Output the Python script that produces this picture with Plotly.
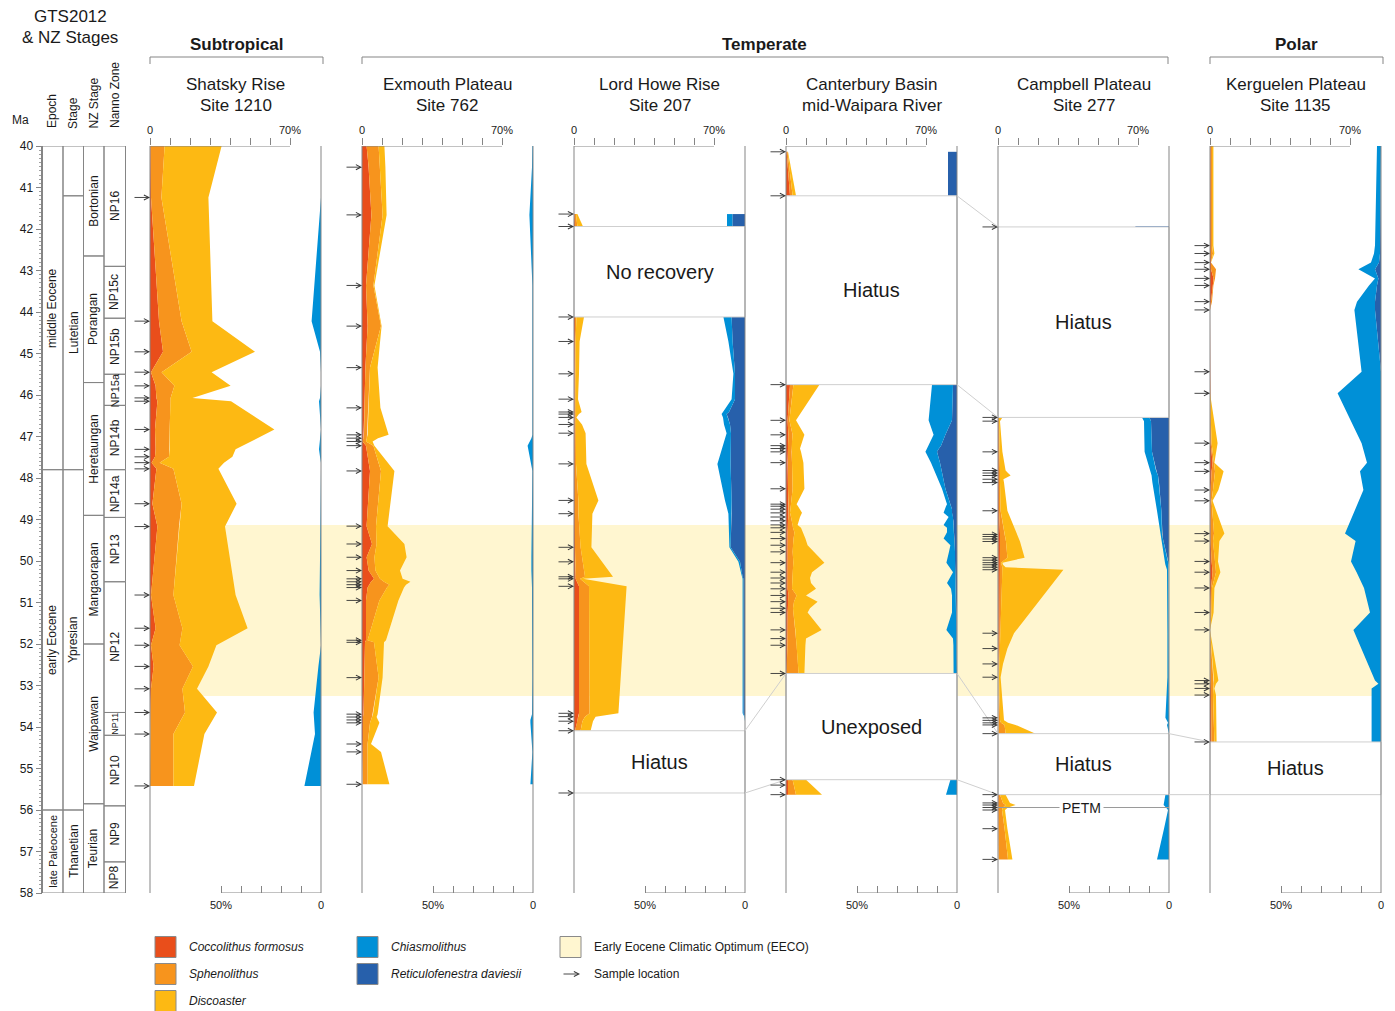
import plotly.graph_objects as go

W, H = 1395, 1011
FONT = "Liberation Sans, Arial, Helvetica, sans-serif"

C_COCCO = "#E94E1B"
C_SPHENO = "#F7941D"
C_DISCO = "#FDB913"
C_CHIAS = "#0090D7"
C_RDAV = "#2760AB"
C_EECO = "#FFF6D0"
GRID = "#858585"
BOX = "#cfcfcf"
TXT = "#1a1a1a"

# ---------------- events ----------------
eeco = [49.13, 53.25]
petm_age = 55.94

# ---------------- timescale (GTS2012 & NZ stages) ----------------
epoch_names = ["middle Eocene", "early Eocene", "late Paleocene"]
epoch_bounds = [40.0, 47.8, 56.0, 58.0]
stage_names = ["", "Lutetian", "Ypresian", "Thanetian"]
stage_bounds = [40.0, 41.2, 47.8, 56.0, 58.0]
nzstage_names = ["Bortonian", "Porangan", "Heretaungan", "Mangaorapan", "Waipawan", "Teurian"]
nzstage_bounds = [40.0, 42.65, 45.7, 48.9, 52.0, 55.85, 58.0]
nanno_names = ["NP16", "NP15c", "NP15b", "NP15a", "NP14b", "NP14a", "NP13", "NP12", "NP11", "NP10", "NP9", "NP8"]
nanno_bounds = [40.0, 42.9, 44.15, 45.5, 46.25, 47.8, 48.95, 50.5, 53.65, 54.2, 55.9, 57.25, 58.0]

# ---------------- Shatsky Rise, Site 1210 (% of assemblage) ----------------
shatsky_age = [40.0, 41.24, 44.22, 44.96, 45.45, 45.78, 46.07, 46.15, 46.83, 47.31, 47.49, 47.63,
               47.78, 48.62, 49.17, 50.82, 51.62, 52.03, 52.54, 53.08, 53.65, 54.17, 55.42]
shatsky_cocco = [0.3, 0.5, 4.5, 6.5, 0.5, 2.8, 3.2, 3.7, 2.5, 2.8, 2.5, 0.8,
                 3.2, 1.2, 3.7, 0.5, 2.8, 0.5, 1.8, 0.5, 0.2, 0.0, 0.0]
shatsky_spheno = [7.0, 5.2, 11.3, 14.3, 5.3, 9.4, 7.1, 6.6, 7.3, 7.0, 7.0, 4.0,
                  8.5, 14.6, 10.8, 11.2, 13.4, 14.3, 19.7, 15.7, 17.3, 11.7, 11.7]
shatsky_disco = [28.5, 23.5, 15.4, 31.7, 25.0, 28.1, 10.9, 30.2, 52.4, 33.0, 31.7, 32.2,
                 22.5, 27.5, 23.0, 31.1, 32.6, 18.4, 7.7, 7.3, 16.0, 15.5, 10.3]
shatsky_chias = [0.0, 0.0, 4.7, 0.5, 0.0, 0.0, 0.5, 1.0, 0.0, 1.0, 0.5, 0.0,
                 0.0, 0.0, 0.3, 0.7, 0.3, 0.0, 1.3, 2.5, 3.7, 3.0, 8.3]
shatsky_rdav = [0.0, 0.0, 0.0, 0.0, 0.0, 0.0, 0.0, 0.0, 0.0, 0.0, 0.0, 0.0,
                0.0, 0.0, 0.0, 0.0, 0.0, 0.0, 0.0, 0.0, 0.0, 0.0, 0.0]
shatsky_samples = [41.24, 44.22, 44.96, 45.45, 45.78, 46.07, 46.15, 46.83, 47.31, 47.49, 47.63,
                   47.78, 48.62, 49.17, 50.82, 51.62, 52.03, 52.54, 53.08, 53.65, 54.17, 55.42]
shatsky_gaps = []

# ---------------- Exmouth Plateau, Site 762 ----------------
exmouth_age = [40.0, 40.51, 41.66, 43.36, 44.34, 45.34, 46.31, 46.96, 47.04, 47.12, 47.22,
               47.83, 49.16, 49.59, 49.91, 50.23, 50.43, 50.50, 50.57, 50.64, 50.95,
               51.91, 51.96, 52.81, 53.69, 53.76, 53.83, 53.90, 54.41, 54.60, 55.38]
exmouth_cocco = [2.3, 3.3, 4.7, 2.0, 2.8, 1.7, 1.2, 1.0, 0.7, 0.3, 2.0,
                 4.0, 2.3, 5.0, 2.3, 3.3, 6.0, 4.5, 3.5, 2.8, 2.0,
                 2.0, 1.5, 1.2, 0.8, 0.5, 0.5, 0.5, 0.3, 0.3, 0.3]
exmouth_spheno = [6.0, 5.7, 5.6, 3.7, 6.7, 2.3, 2.1, 1.8, 1.7, 1.7, 3.7,
                  5.5, 4.7, 2.3, 3.9, 3.4, 3.0, 6.5, 10.2, 9.7, 6.7,
                  0.8, 4.5, 7.1, 4.7, 4.5, 4.0, 3.5, 2.5, 2.5, 2.5]
exmouth_disco = [2.9, 2.7, 2.0, 0.5, 0.3, 3.8, 5.9, 10.5, 5.6, 3.3, 0.5,
                 6.7, 5.8, 13.9, 16.1, 12.3, 11.3, 13.2, 8.3, 8.5, 9.5,
                 9.2, 5.0, 2.0, 2.3, 2.3, 3.5, 4.7, 1.7, 6.7, 10.9]
exmouth_chias = [0.3, 0.5, 1.8, 0.3, 0.3, 0.3, 0.3, 0.3, 0.8, 1.5, 2.7,
                 0.3, 0.8, 0.8, 0.8, 0.8, 0.5, 0.5, 0.5, 0.5, 0.5,
                 0.3, 0.5, 0.3, 0.5, 1.0, 1.3, 1.3, 0.3, 0.3, 1.3]
exmouth_rdav = [0.0, 0.0, 0.0, 0.0, 0.0, 0.0, 0.0, 0.0, 0.0, 0.0, 0.0,
                0.0, 0.0, 0.0, 0.0, 0.0, 0.0, 0.0, 0.0, 0.0, 0.0,
                0.0, 0.0, 0.0, 0.0, 0.0, 0.0, 0.0, 0.0, 0.0, 0.0]
exmouth_samples = [40.51, 41.66, 43.36, 44.34, 45.34, 46.31, 46.96, 47.04, 47.12, 47.22,
                   47.83, 49.16, 49.59, 49.91, 50.23, 50.43, 50.50, 50.57, 50.64, 50.95,
                   51.91, 51.96, 52.81, 53.69, 53.76, 53.83, 53.90, 54.41, 54.60, 55.38]
exmouth_gaps = []

# ---------------- Lord Howe Rise, Site 207 ----------------
lordhowe_age = [41.64, 41.94, 44.12, 44.71, 45.49, 46.10, 46.41, 46.46, 46.54, 46.71,
                46.92, 47.66, 48.54, 48.86, 49.67, 50.02, 50.38, 50.43, 50.61, 53.67,
                53.75, 53.86, 54.09]
lordhowe_cocco = [0.3, 0.5, 0.5, 0.3, 0.3, 0.3, 0.3, 0.3, 0.3, 0.3,
                  0.3, 0.3, 0.3, 0.3, 0.5, 0.5, 0.8, 0.8, 2.5, 2.5,
                  2.0, 1.7, 0.5]
lordhowe_spheno = [0.7, 1.2, 0.7, 0.5, 0.5, 0.5, 0.5, 0.5, 0.4, 0.5,
                   0.5, 0.7, 1.9, 1.9, 2.8, 3.7, 4.7, 2.2, 5.0, 5.3,
                   3.5, 2.5, 2.8]
lordhowe_disco = [0.7, 2.8, 3.8, 2.0, 1.7, 1.2, 3.0, 1.7, 0.5, 3.2,
                  5.0, 5.2, 10.0, 7.0, 5.4, 10.0, 14.0, 1.5, 18.8, 14.4,
                  5.3, 5.3, 5.0]
lordhowe_chias = [2.7, 2.7, 4.1, 2.1, 0.8, 1.7, 3.0, 2.5, 2.5, 3.0,
                  2.2, 6.6, 3.3, 1.6, 0.6, 0.8, 0.3, 0.4, 0.4, 0.4,
                  0.3, 0.0, 0.0]
lordhowe_rdav = [6.3, 6.3, 6.7, 6.2, 5.0, 5.0, 8.0, 9.2, 8.5, 7.5,
                 7.0, 7.2, 6.7, 6.7, 7.2, 2.5, 1.2, 0.8, 0.8, 0.8,
                 0.0, 0.0, 0.0]
lordhowe_samples = [41.64, 41.94, 44.12, 44.71, 45.49, 46.10, 46.41, 46.46, 46.54, 46.71,
                    46.92, 47.66, 48.54, 48.86, 49.67, 50.02, 50.38, 50.43, 50.61, 53.67,
                    53.75, 53.86, 54.09, 55.59]
lordhowe_gaps = [(41.94, 44.12, "No recovery"), (54.09, 55.59, "Hiatus")]

# ---------------- Canterbury Basin, mid-Waipara River ----------------
canterbury_age = [40.14, 41.20,
                  45.75, 46.61, 46.96, 47.22, 47.29, 47.37, 47.63, 48.26, 48.63, 48.68,
                  48.75, 48.84, 48.94, 49.03, 49.13, 49.20, 49.31, 49.46, 49.62, 49.78,
                  50.04, 50.27, 50.41, 50.53, 50.67, 50.83, 50.98, 51.14, 51.24, 51.66,
                  51.87, 52.03, 52.71,
                  55.27, 55.40, 55.63]
canterbury_cocco = [0.3, 2.0,
                    2.0, 0.8, 1.2, 1.0, 1.0, 1.0, 0.8, 1.0, 1.2, 1.3,
                    1.3, 1.3, 1.2, 1.0, 0.8, 0.8, 0.8, 0.8, 0.8, 0.8,
                    0.8, 0.8, 0.8, 0.8, 0.8, 1.3, 1.0, 0.8, 0.8, 0.8,
                    0.7, 0.7, 0.3,
                    1.0, 1.0, 1.0]
canterbury_spheno = [0.5, 1.3,
                     1.7, 0.9, 2.1, 1.8, 1.8, 1.8, 2.2, 2.3, 1.3, 1.0,
                     0.9, 0.7, 1.3, 2.0, 2.5, 2.7, 3.4, 3.0, 2.7, 2.5,
                     2.9, 2.5, 2.2, 2.2, 2.2, 4.0, 3.0, 2.7, 2.9, 3.9,
                     4.3, 4.6, 6.0,
                     2.3, 3.0, 4.0]
canterbury_disco = [0.2, 1.7,
                    13.0, 3.3, 5.9, 4.7, 4.2, 4.7, 5.7, 5.9, 2.8, 3.7,
                    4.8, 6.0, 4.5, 3.3, 2.5, 4.0, 4.3, 5.9, 7.3, 10.7,
                    15.5, 9.7, 9.0, 9.5, 12.0, 4.7, 11.8, 8.5, 7.1, 13.1,
                    5.0, 4.4, 2.9,
                    6.7, 9.0, 13.0]
canterbury_chias = [0.0, 0.0,
                    10.5, 11.7, 5.9, 6.0, 6.0, 5.8, 4.5, 1.7, 1.7, 2.5,
                    3.7, 4.2, 2.2, 3.7, 5.0, 3.5, 3.5, 5.4, 2.1, 3.0,
                    4.5, 1.3, 2.9, 4.5, 2.5, 2.1, 2.1, 2.2, 2.2, 5.0,
                    1.8, 1.6, 1.7,
                    3.3, 4.2, 5.5]
canterbury_rdav = [4.5, 4.5,
                   2.0, 2.5, 5.8, 8.0, 9.0, 10.0, 8.5, 5.8, 3.3, 3.0,
                   2.5, 2.5, 2.0, 1.8, 1.7, 1.5, 1.5, 1.3, 1.2, 1.0,
                   0.8, 0.7, 0.6, 0.5, 0.5, 0.4, 0.4, 0.3, 0.3, 0.3,
                   0.2, 0.2, 0.0,
                   0.0, 0.0, 0.0]
canterbury_samples = [40.14, 41.20,
                      45.75, 46.61, 46.96, 47.22, 47.29, 47.37, 47.63, 48.26, 48.63, 48.68,
                      48.75, 48.84, 48.94, 49.03, 49.13, 49.20, 49.31, 49.46, 49.62, 49.78,
                      50.04, 50.27, 50.41, 50.53, 50.67, 50.83, 50.98, 51.14, 51.24, 51.66,
                      51.87, 52.03, 52.71,
                      55.27, 55.40, 55.63]
canterbury_gaps = [(41.20, 45.75, "Hiatus"), (52.71, 55.27, "Unexposed")]

# ---------------- Campbell Plateau, Site 277 ----------------
campbell_age = [46.54, 46.63, 47.37, 47.82, 47.88, 47.94, 48.03, 48.11, 48.79, 49.36,
                49.41, 49.47, 49.53, 49.92, 49.98, 50.04, 50.09, 50.15, 50.21, 51.74,
                52.11, 52.48, 52.80, 53.78, 53.84, 53.90, 53.95, 54.16,
                55.63, 55.83, 55.88, 55.94, 56.00, 56.45, 57.19]
campbell_cocco = [0.3, 0.3, 0.3, 0.3, 0.3, 0.3, 0.3, 0.3, 0.5, 1.0,
                  1.0, 1.0, 1.0, 1.0, 1.0, 1.0, 1.0, 1.0, 1.0, 0.8,
                  0.5, 0.3, 0.3, 0.3, 0.3, 0.3, 0.3, 0.3,
                  0.3, 0.3, 0.3, 0.3, 0.3, 0.3, 0.3]
campbell_spheno = [0.2, 0.2, 0.5, 0.7, 0.9, 1.0, 0.7, 0.7, 0.8, 2.3,
                   2.5, 2.8, 3.0, 3.7, 2.0, 0.5, 0.8, 1.2, 1.2, 0.2,
                   0.3, 0.4, 0.2, 0.7, 0.7, 1.2, 3.0, 3.5,
                   0.7, 2.2, 3.5, 2.2, 1.7, 3.0, 4.7]
campbell_disco = [1.7, 0.5, 1.4, 2.8, 3.8, 5.0, 1.7, 2.0, 3.4, 6.4,
                  6.5, 6.7, 7.0, 8.6, 5.0, 0.7, 0.7, 1.6, 30.5, 7.0,
                  3.9, 1.8, 0.8, 2.0, 2.0, 3.5, 5.5, 15.0,
                  2.8, 3.5, 5.0, 2.5, 1.5, 1.4, 2.2]
campbell_chias = [3.7, 3.5, 3.7, 2.8, 3.0, 3.2, 3.3, 3.3, 2.2, 0.8,
                  1.0, 1.0, 1.1, 1.7, 1.5, 1.7, 1.8, 1.5, 1.0, 0.8,
                  0.8, 0.8, 0.8, 1.8, 1.0, 0.5, 1.0, 0.3,
                  1.8, 2.3, 2.7, 1.5, 0.5, 2.5, 6.0]
campbell_rdav = [9.8, 9.0, 8.5, 6.5, 6.0, 5.5, 5.2, 5.0, 3.8, 3.5,
                 3.2, 3.0, 2.7, 1.0, 0.7, 0.3, 0.0, 0.0, 0.0, 0.0,
                 0.0, 0.0, 0.0, 0.0, 0.0, 0.0, 0.0, 0.0,
                 0.0, 0.0, 0.0, 0.0, 0.0, 0.0, 0.0]
campbell_samples = [41.95,
                    46.54, 46.63, 47.37, 47.82, 47.88, 47.94, 48.03, 48.11, 48.79, 49.36,
                    49.41, 49.47, 49.53, 49.92, 49.98, 50.04, 50.09, 50.15, 50.21, 51.74,
                    52.11, 52.48, 52.80, 53.78, 53.84, 53.90, 53.95, 54.16,
                    55.63, 55.83, 55.88, 55.94, 56.00, 56.45, 57.19]
campbell_gaps = [(41.95, 46.54, "Hiatus"), (54.16, 55.63, "Hiatus")]
campbell_top_age = [41.95]
campbell_top_rdav = [16.8]

# ---------------- Kerguelen Plateau, Site 1135 ----------------
kerguelen_age = [40.0, 42.40, 42.59, 42.81, 42.97, 43.19, 43.36, 43.75, 43.95, 45.44,
                 45.96, 47.16, 47.63, 47.84, 48.29, 48.55, 49.34, 49.52, 50.01, 50.27,
                 50.65, 51.24, 51.66, 52.88, 52.96, 53.07, 53.23, 54.36]
kerguelen_cocco = [0.3, 0.3, 0.3, 0.3, 0.5, 1.8, 1.3, 0.5, 0.0, 0.0,
                   0.0, 0.3, 1.3, 0.8, 0.3, 0.3, 0.3, 0.3, 0.8, 1.3,
                   0.5, 0.3, 0.0, 0.3, 0.5, 0.5, 0.5, 0.7]
kerguelen_spheno = [0.7, 0.7, 1.2, 0.2, 2.5, 0.7, 0.4, 0.5, 0.0, 0.0,
                    0.0, 0.5, 0.7, 1.7, 1.2, 0.5, 1.7, 1.2, 1.7, 1.7,
                    0.5, 0.5, 0.0, 1.7, 1.3, 1.0, 1.0, 1.5]
kerguelen_disco = [0.7, 0.7, 0.7, 0.0, 0.0, 0.0, 0.0, 0.0, 0.0, 0.0,
                   0.0, 3.0, 0.2, 4.3, 2.7, 0.5, 5.2, 3.2, 1.5, 2.2,
                   1.2, 1.0, 0.0, 2.2, 1.2, 0.7, 1.5, 1.1]
kerguelen_chias = [2.0, 2.5, 3.0, 4.0, 8.3, 1.7, 4.0, 9.0, 10.3, 9.7,
                   21.7, 9.7, 7.0, 10.5, 8.8, 11.0, 18.0, 12.7, 15.0, 12.2,
                   8.5, 5.5, 13.8, 3.0, 1.3, 4.7, 4.7, 4.7]
kerguelen_rdav = [0.0, 0.5, 0.5, 1.0, 3.0, 1.3, 2.0, 3.0, 3.0, 0.0,
                  0.0, 0.0, 0.0, 0.0, 0.0, 0.0, 0.0, 0.0, 0.0, 0.0,
                  0.0, 0.0, 0.0, 0.0, 0.0, 0.0, 0.0, 0.0]
kerguelen_samples = [42.40, 42.59, 42.81, 42.97, 43.19, 43.36, 43.75, 43.95, 45.44,
                     45.96, 47.16, 47.63, 47.84, 48.29, 48.55, 49.34, 49.52, 50.01, 50.27,
                     50.65, 51.24, 51.66, 52.88, 52.96, 53.07, 53.23, 54.36]
kerguelen_gaps = [(54.36, 55.63, "Hiatus")]

# tie lines between hiatus/unexposed intervals of neighbouring sites
# (site index, age on its right edge, next site index, age on its left edge)
correlations = [(2, 54.09, 3, 52.71), (2, 55.59, 3, 55.27),
                (3, 41.20, 4, 41.95), (3, 45.75, 4, 46.54),
                (3, 52.71, 4, 54.16), (3, 55.27, 4, 55.63),
                (4, 54.16, 5, 54.36), (4, 55.63, 5, 55.63)]

sites = [
    dict(t1="Shatsky Rise", t2="Site 1210", age=shatsky_age, cocco=shatsky_cocco, spheno=shatsky_spheno,
         disco=shatsky_disco, chias=shatsky_chias, rdav=shatsky_rdav, samples=shatsky_samples, gaps=shatsky_gaps),
    dict(t1="Exmouth Plateau", t2="Site 762", age=exmouth_age, cocco=exmouth_cocco, spheno=exmouth_spheno,
         disco=exmouth_disco, chias=exmouth_chias, rdav=exmouth_rdav, samples=exmouth_samples, gaps=exmouth_gaps),
    dict(t1="Lord Howe Rise", t2="Site 207", age=lordhowe_age, cocco=lordhowe_cocco, spheno=lordhowe_spheno,
         disco=lordhowe_disco, chias=lordhowe_chias, rdav=lordhowe_rdav, samples=lordhowe_samples, gaps=lordhowe_gaps),
    dict(t1="Canterbury Basin", t2="mid-Waipara River", age=canterbury_age, cocco=canterbury_cocco,
         spheno=canterbury_spheno, disco=canterbury_disco, chias=canterbury_chias, rdav=canterbury_rdav,
         samples=canterbury_samples, gaps=canterbury_gaps),
    dict(t1="Campbell Plateau", t2="Site 277", age=campbell_age, cocco=campbell_cocco, spheno=campbell_spheno,
         disco=campbell_disco, chias=campbell_chias, rdav=campbell_rdav, samples=campbell_samples, gaps=campbell_gaps),
    dict(t1="Kerguelen Plateau", t2="Site 1135", age=kerguelen_age, cocco=kerguelen_cocco, spheno=kerguelen_spheno,
         disco=kerguelen_disco, chias=kerguelen_chias, rdav=kerguelen_rdav, samples=kerguelen_samples, gaps=kerguelen_gaps),
]

# ---------------- layout geometry ----------------
PANEL_LEFT = [150, 362, 574, 786, 998, 1210]
PANEL_W = 171
SPAN = 85.5            # percent across one panel (2 px per %)
Y_TOP_PX, Y_BOT_PX = 146, 893
PX_PER_MA = (Y_BOT_PX - Y_TOP_PX) / 18.0
TS_COLS = [41.5, 63, 83.5, 104, 125.5]


def px(x):
    return x / W


def py(y):
    return 1 - y / H


def axname(k):
    return "x" if k == 1 else f"x{k}"


def axkey(k):
    return "xaxis" if k == 1 else f"xaxis{k}"


def split_segments(ages, gaps):
    segs, cur = [], [0]
    for i in range(1, len(ages)):
        a, b = ages[i - 1], ages[i]
        if any(a <= g0 + 1e-6 and b >= g1 - 1e-6 for g0, g1, _ in gaps):
            segs.append(cur)
            cur = [i]
        else:
            cur.append(i)
    segs.append(cur)
    return segs


def stack(*series):
    acc = [0.0] * len(series[0])
    out = [list(acc)]
    for s in series:
        acc = [a + v for a, v in zip(acc, s)]
        out.append(list(acc))
    return out


fig = go.Figure()
shapes, annos = [], []
layout_axes = {}


def text(x, y, s, size=12, xanchor="center", yanchor="middle", angle=0, xref="paper", yref="paper", **kw):
    annos.append(dict(x=x, y=y, xref=xref, yref=yref, text=s, showarrow=False, xanchor=xanchor,
                      yanchor=yanchor, textangle=angle,
                      font=dict(family=FONT, size=size, color=TXT), **kw))


# EECO band behind all panels
shapes.append(dict(type="rect", xref="paper", yref="y", x0=px(PANEL_LEFT[0]), x1=px(PANEL_LEFT[-1] + PANEL_W),
                   y0=eeco[0], y1=eeco[1], fillcolor=C_EECO, line=dict(width=0), layer="below"))

for i, s in enumerate(sites):
    kw_, kc_ = 2 * i + 1, 2 * i + 2
    xw, xc = axname(kw_), axname(kc_)
    left = PANEL_LEFT[i]
    dom = [px(left), px(left + PANEL_W)]
    layout_axes[axkey(kw_)] = dict(
        domain=dom, range=[0, SPAN], anchor="y", side="top", ticks="outside", ticklen=7,
        tickcolor=GRID, tickwidth=1, tickmode="array", tickvals=[0, 10, 20, 30, 40, 50, 60, 70],
        ticktext=["0", "", "", "", "", "", "", "70%"], tickfont=dict(family=FONT, size=11, color=TXT),
        showline=False, showgrid=False, zeroline=False, fixedrange=True, automargin=False)
    layout_axes[axkey(kc_)] = dict(
        overlaying=xw, range=[SPAN, 0], anchor="y", side="bottom", ticks="inside", ticklen=7,
        tickcolor=GRID, tickwidth=1, tickmode="array", tickvals=[0, 10, 20, 30, 40, 50],
        ticktext=["0", "", "", "", "", "50%"], tickfont=dict(family=FONT, size=11, color=TXT),
        ticklabelstandoff=4, showline=False, showgrid=False, zeroline=False, fixedrange=True,
        automargin=False)

    ages = s["age"]
    warm = stack(s["cocco"], s["spheno"], s["disco"])
    cool = stack(s["rdav"], s["chias"])
    for seg in split_segments(ages, s["gaps"]):
        if len(seg) < 2:
            continue
        ys = [ages[j] for j in seg] + [ages[j] for j in reversed(seg)]
        for lo, hi, col in ((warm[0], warm[1], C_COCCO), (warm[1], warm[2], C_SPHENO), (warm[2], warm[3], C_DISCO)):
            xs = [hi[j] for j in seg] + [lo[j] for j in reversed(seg)]
            fig.add_trace(go.Scatter(x=xs, y=ys, xaxis=xw, yaxis="y", mode="lines", fill="toself",
                                     fillcolor=col, line=dict(width=0), hoverinfo="skip", showlegend=False))
        for lo, hi, col in ((cool[0], cool[1], C_RDAV), (cool[1], cool[2], C_CHIAS)):
            xs = [hi[j] for j in seg] + [lo[j] for j in reversed(seg)]
            fig.add_trace(go.Scatter(x=xs, y=ys, xaxis=xc, yaxis="y", mode="lines", fill="toself",
                                     fillcolor=col, line=dict(width=0), hoverinfo="skip", showlegend=False))

    # hiatus / no recovery boxes
    for g0, g1, label in s["gaps"]:
        shapes.append(dict(type="rect", xref="paper", yref="y", x0=px(left), x1=px(left + PANEL_W),
                           y0=g0, y1=g1, fillcolor="white", line=dict(color=BOX, width=1), layer="above"))
        text(px(left + PANEL_W / 2), (g0 + g1) / 2, label, size=20, yref="y")

    # panel frame lines and partial axis lines
    for xpx in (left, left + PANEL_W):
        shapes.append(dict(type="line", xref="paper", yref="y", x0=px(xpx), x1=px(xpx), y0=40, y1=58,
                           line=dict(color=GRID, width=1), layer="above"))
    shapes.append(dict(type="line", xref=xw, yref="y", x0=0, x1=70, y0=40, y1=40,
                       line=dict(color=GRID, width=1), layer="above"))
    shapes.append(dict(type="line", xref=xc, yref="y", x0=0, x1=50, y0=58, y1=58,
                       line=dict(color=GRID, width=1), layer="above"))

    # sample locations
    for a in s["samples"]:
        annos.append(dict(x=0, y=a, xref=xw, yref="y", ax=-17, ay=0, axref="pixel", ayref="pixel",
                          text="", showarrow=True, arrowhead=5, arrowsize=1.1, arrowwidth=0.9,
                          arrowcolor="#333333", standoff=0))

    # site title
    text(px(left + PANEL_W / 2), py(85), s["t1"], size=17)
    text(px(left + PANEL_W / 2), py(105), s["t2"], size=17)

# isolated R. daviesii occurrence at the top of the Campbell hiatus
fig.add_trace(go.Scatter(x=[0, campbell_top_rdav[0]], y=[campbell_top_age[0], campbell_top_age[0]],
                         xaxis=axname(10), yaxis="y", mode="lines", line=dict(color=C_RDAV, width=1.2),
                         hoverinfo="skip", showlegend=False))

# PETM marker at Campbell Plateau
cl = PANEL_LEFT[4]
shapes.append(dict(type="line", xref="paper", yref="y", x0=px(cl), x1=px(cl + PANEL_W), y0=petm_age, y1=petm_age,
                   line=dict(color="#9a9a9a", width=1), layer="above"))
text(px(cl + PANEL_W / 2 - 2), petm_age, "PETM", size=14, yref="y", bgcolor="white", borderpad=2)

# tie lines between sites
for a, aa, b, ab in correlations:
    shapes.append(dict(type="line", xref="paper", yref="y", x0=px(PANEL_LEFT[a] + PANEL_W), x1=px(PANEL_LEFT[b]),
                       y0=aa, y1=ab, line=dict(color=BOX, width=1), layer="above"))

# ---------------- timescale columns ----------------
columns = [(epoch_names, epoch_bounds), (stage_names, stage_bounds),
           (nzstage_names, nzstage_bounds), (nanno_names, nanno_bounds)]
for j, (names, bounds) in enumerate(columns):
    x0, x1 = TS_COLS[j], TS_COLS[j + 1]
    for n, name in enumerate(names):
        b0, b1 = bounds[n], bounds[n + 1]
        shapes.append(dict(type="rect", xref="paper", yref="y", x0=px(x0), x1=px(x1), y0=b0, y1=b1,
                           line=dict(color=GRID, width=1), fillcolor="rgba(0,0,0,0)", layer="above"))
        if name:
            # shrink the label only when the unit is too short to hold it
            room = (b1 - b0) * PX_PER_MA - 2
            fs = max(7, min(12, round(room / (0.55 * len(name)))))
            text(px((x0 + x1) / 2), (b0 + b1) / 2, name, size=fs, angle=-90, yref="y")

for label, cx, cy in (("Epoch", 52, 111), ("Stage", 73, 113), ("NZ Stage", 93.5, 103), ("Nanno Zone", 115, 95)):
    text(px(cx), py(cy), label, size=12, angle=-90)
text(px(20), py(120), "Ma", size=12)
text(px(70), py(17), "GTS2012", size=17)
text(px(70), py(37), "& NZ Stages", size=17)

# ---------------- climate-zone brackets ----------------
for label, x0, x1 in (("Subtropical", 150, 323), ("Temperate", 362, 1168), ("Polar", 1210, 1383)):
    shapes.append(dict(type="path", xref="paper", yref="paper",
                       path=f"M {px(x0)} {py(64)} L {px(x0)} {py(57)} L {px(x1)} {py(57)} L {px(x1)} {py(64)}",
                       line=dict(color=GRID, width=1)))
    text(px((x0 + x1) / 2), py(45), f"<b>{label}</b>", size=17)

# ---------------- legend ----------------
legend_items = [(155, 947, C_COCCO, "<i>Coccolithus formosus</i>"),
                (155, 974, C_SPHENO, "<i>Sphenolithus</i>"),
                (155, 1001, C_DISCO, "<i>Discoaster</i>"),
                (357, 947, C_CHIAS, "<i>Chiasmolithus</i>"),
                (357, 974, C_RDAV, "<i>Reticulofenestra daviesii</i>"),
                (560, 947, C_EECO, "Early Eocene Climatic Optimum (EECO)")]
for x0, yc, col, lab in legend_items:
    shapes.append(dict(type="rect", xref="paper", yref="paper", x0=px(x0), x1=px(x0 + 21),
                       y0=py(yc + 10.5), y1=py(yc - 10.5), fillcolor=col, line=dict(color="#8a8a8a", width=1)))
    text(px(x0 + 32), py(yc), lab, size=12, xanchor="left")
annos.append(dict(x=px(580), y=py(974), xref="paper", yref="paper", ax=-18, ay=0, axref="pixel", ayref="pixel",
                  text="", showarrow=True, arrowhead=5, arrowsize=1.1, arrowwidth=0.9, arrowcolor="#333333"))
text(px(592), py(974), "Sample location", size=12, xanchor="left")

fig.update_layout(
    width=W, height=H, margin=dict(l=0, r=0, t=0, b=0, pad=0, autoexpand=False),
    paper_bgcolor="white", plot_bgcolor="rgba(0,0,0,0)",
    font=dict(family=FONT, color=TXT),
    hovermode=False, showlegend=False,
    yaxis=dict(domain=[py(Y_BOT_PX), py(Y_TOP_PX)], range=[58, 40], anchor="free", position=px(TS_COLS[0]),
               side="left", tickmode="linear", tick0=40, dtick=1, ticks="outside", ticklen=6,
               tickcolor=GRID, tickfont=dict(family=FONT, size=12, color=TXT), automargin=False,
               showline=True, linecolor=GRID, linewidth=1, showgrid=False, zeroline=False, fixedrange=True,
               minor=dict(dtick=0.1, ticks="outside", ticklen=3, tickcolor="#a0a0a0", showgrid=False)),
    shapes=shapes, annotations=annos,
    **layout_axes,
)

fig.write_html("out.html", config={"displayModeBar": False})
